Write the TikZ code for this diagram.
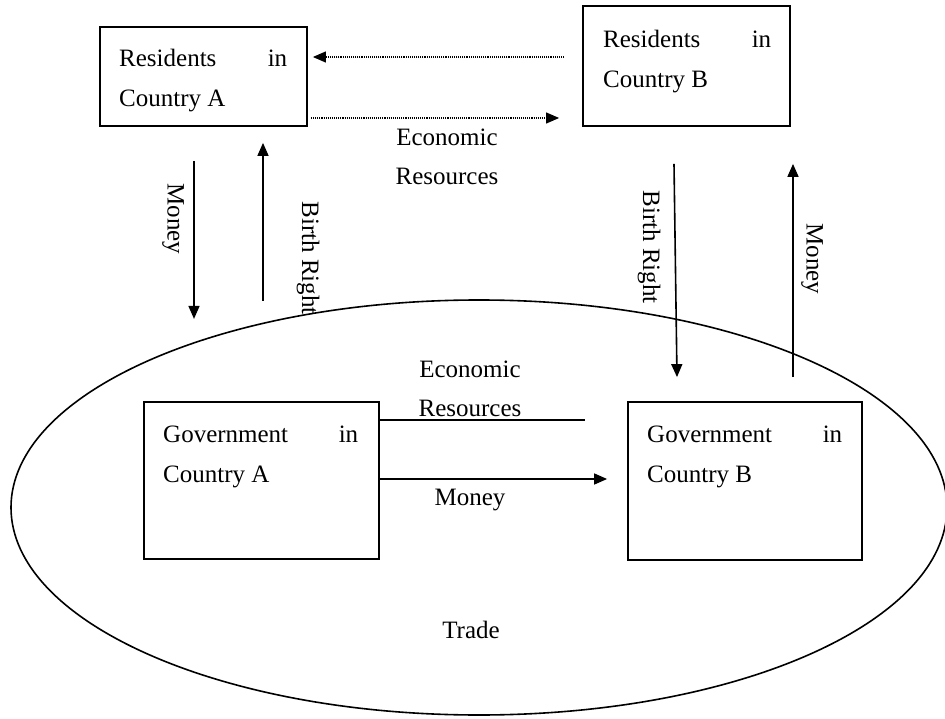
\documentclass[tikz,border=0pt]{standalone}
\usepackage{fontspec}
\setmainfont{Liberation Serif}
\usetikzlibrary{positioning, arrows.meta, calc}

\begin{document}
\begin{tikzpicture}[
    x=1pt, y=-1pt,
    % Node styles
    box/.style n args={2}{
        rectangle,
        draw=black,
        line width=1.8pt,
        minimum width=#1,
        minimum height=#2,
        inner sep=0pt
    },
    boxlabel/.style={
        anchor=north west,
        inner sep=0pt,
        align=left,
        font=\fontsize{25}{40}\selectfont
    },
    flowlabel/.style={
        align=center,
        inner sep=0pt,
        font=\fontsize{25}{39}\selectfont
    },
    flow/.style={
        -{Triangle[length=13pt, width=11pt]},
        line width=1.6pt
    },
    dotflow/.style={
        flow,
        line width=1.1pt,
        densely dotted
    }
]

\useasboundingbox (0,0) rectangle (945,719);

% Residents
\node[box={207pt}{99pt}] (resA) at (203.5,76.5) {};
\node[boxlabel] (resAtext) at (119,49) {\hbox to 168pt{Residents\hfill in}\\Country A};

\node[box={207pt}{120pt}] (resB) at (686.5,66) {};
\node[boxlabel] (resBtext) at (603,30) {\hbox to 168pt{Residents\hfill in}\\Country B};

% Governments
\node[box={235pt}{157pt}] (govA) at (261.5,480.5) {};
\node[boxlabel] (govAtext) at (163,426) {\hbox to 195pt{Government\hfill in}\\Country A};

\node[box={234pt}{158pt}] (govB) at (745,481) {};
\node[boxlabel] (govBtext) at (647,426) {\hbox to 195pt{Government\hfill in}\\Country B};

% Trade area
\draw[line width=1.6pt] (479,507.5) ellipse [x radius=468, y radius=207.5];
\node[flowlabel] (trade) at (471,630) {Trade};

% Between residents
\draw[dotflow] ($(resB.west)+(-18,-9)$) -- ($(resA.east)+(5,-19.5)$);
\draw[dotflow] ($(resA.east)+(3,41.5)$) -- ($(resB.west)+(-23,52)$);
\node[flowlabel] (resEcon) at (447,157) {Economic\\Resources};

% Country A
\draw[flow] ($(resA.south)+(-9.5,34)$) -- ++(0,158);
\draw[flow] ($(resA.south)+(59.5,174)$) -- ($(resA.south)+(59.5,16)$);
\node[flowlabel, rotate=-90] (moneyA) at (173,219) {Money};
\node[flowlabel, rotate=-90] (birthA) at (308,258) {Birth Right};

% Country B
\draw[flow] ($(resB.south)+(-12.5,37)$) -- ($(govB.north)+(-68,-24)$);
\draw[flow] ($(govB.north)+(48,-24)$) -- ($(resB.south)+(106.5,37)$);
\node[flowlabel, rotate=-90] (birthB) at (649,247) {Birth Right};
\node[flowlabel, rotate=-90] (moneyB) at (812,259) {Money};

% Between governments
\draw[line width=1.6pt] ($(govA.east)+(0,-60.5)$) -- ($(govB.west)+(-42,-61)$);
\draw[flow] ($(govA.east)+(0,-1.5)$) -- ($(govB.west)+(-20,-2)$);
\node[flowlabel] (govEcon) at (470,389) {Economic\\Resources};
\node[flowlabel] (govMoney) at (470,500) {Money};

\end{tikzpicture}
\end{document}
